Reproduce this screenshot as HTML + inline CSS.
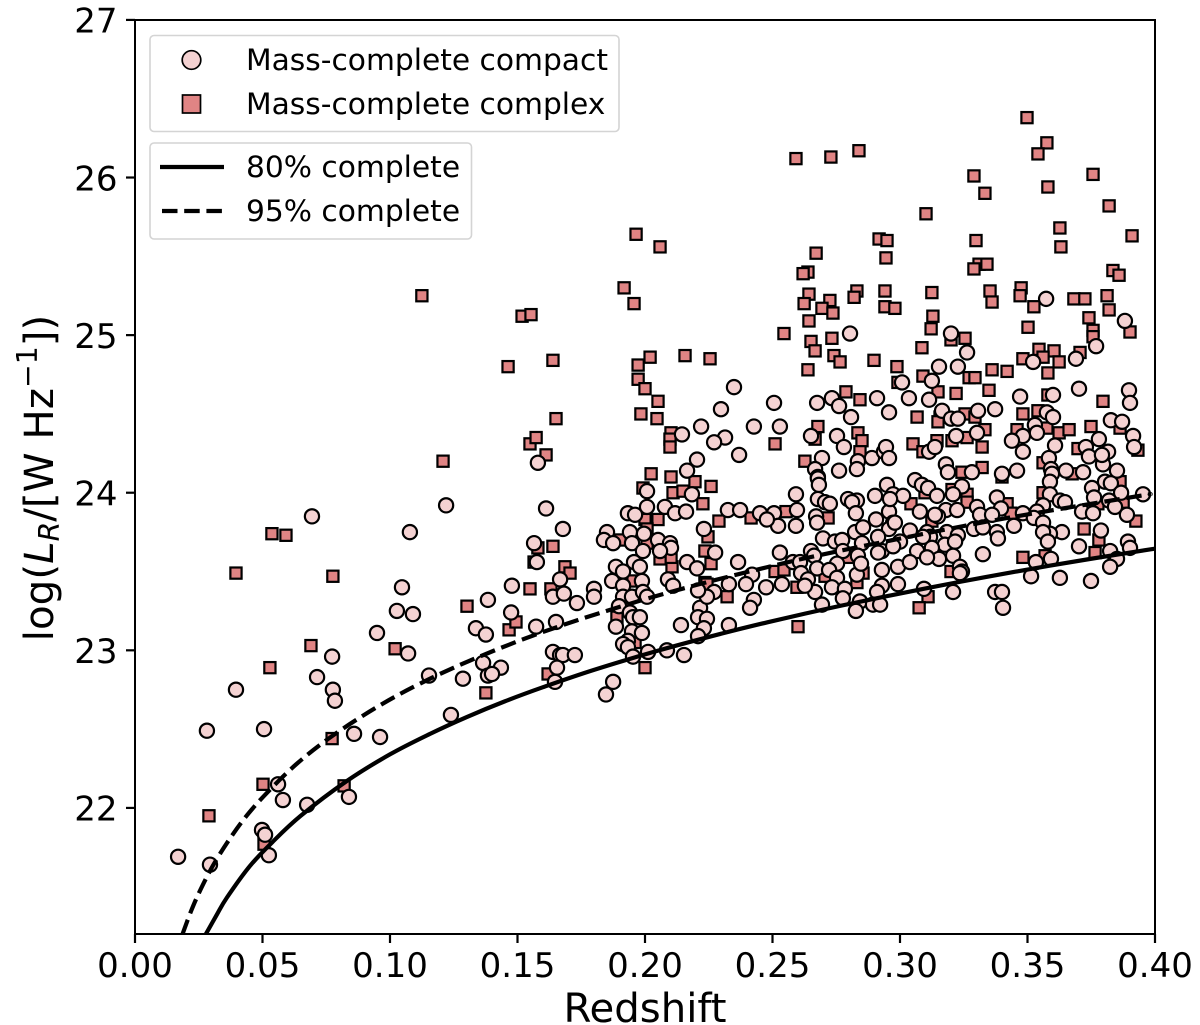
<!DOCTYPE html>
<html lang="en">
<head>
<meta charset="utf-8">
<title>Radio luminosity vs redshift</title>
<style>
html,body{margin:0;padding:0;background:#fff;}
svg{display:block;font-family:"DejaVu Sans","Liberation Sans",sans-serif;}
</style>
</head>
<body>
<svg id="chart" xmlns="http://www.w3.org/2000/svg" width="1200" height="1025" viewBox="0 0 1200 1025">
  <defs><clipPath id="plot-clip"><rect x="135" y="20" width="1020" height="914"/></clipPath></defs>
  <rect width="1200" height="1025" fill="#fff"/>
  <g id="complex-layer"></g>
  <g id="compact-layer"></g>
  <g id="curve-layer" clip-path="url(#plot-clip)"></g>
  <rect x="135" y="20" width="1020" height="914" fill="none" stroke="#000" stroke-width="2"/>
  <g id="tick-layer"></g>
  <text x="645" y="1022" font-size="40.2" text-anchor="middle">Redshift</text>
  <text transform="translate(53,478) rotate(-90)" font-size="40.4" text-anchor="middle">log(<tspan font-style="italic">L</tspan><tspan font-size="28.3" dy="6"><tspan font-style="italic">R</tspan></tspan><tspan dy="-6">/[W Hz</tspan><tspan font-size="28.3" dy="-16">−1</tspan><tspan dy="16">])</tspan></text>

  <g>
    <rect x="150" y="35.5" width="469" height="96" rx="4" fill="#fff" fill-opacity="0.85" stroke="#d4d4d4" stroke-width="1.6"/>
    <circle cx="191.5" cy="60" r="9.3" fill="#f4d2d2" stroke="#000" stroke-width="1.7"/>
    <rect x="182.5" y="95" width="18" height="18" fill="#e08484" stroke="#000" stroke-width="1.7"/>
    <text x="246" y="70" font-size="29.7">Mass-complete compact</text>
    <text x="246" y="114" font-size="29.7">Mass-complete complex</text>
  </g>
  <g>
    <rect x="150" y="143" width="321.5" height="96" rx="4" fill="#fff" fill-opacity="0.85" stroke="#d4d4d4" stroke-width="1.6"/>
    <line x1="160" y1="167" x2="224" y2="167" stroke="#000" stroke-width="4.2"/>
    <line x1="162" y1="211" x2="222" y2="211" stroke="#000" stroke-width="4.2" stroke-dasharray="15.5 6.7"/>
    <text x="246" y="177" font-size="29.7">80% complete</text>
    <text x="246" y="221" font-size="29.7">95% complete</text>
  </g>
</svg>
<script>
const xTickValues=[0,0.05,0.10,0.15,0.20,0.25,0.30,0.35,0.40];
const xTickLabels=["0.00","0.05","0.10","0.15","0.20","0.25","0.30","0.35","0.40"];
const yTickValues=[22,23,24,25,26,27];
const yTickLabels=["22","23","24","25","26","27"];

const curve80Z=[0.0278,0.032,0.036,0.045,0.0537,0.065,0.083,0.10,0.1157,0.13,0.145,0.16,0.18,0.206,0.23,0.248,0.27,0.2922,0.32,0.347,0.375,0.40];
const curve80L=[21.2,21.32,21.43,21.63,21.78,21.95,22.17,22.34,22.47,22.576,22.676,22.766,22.876,23.002,23.106,23.178,23.259,23.335,23.424,23.504,23.581,23.645];
const curve95Z=[0.0186,0.022,0.0255,0.0306,0.037,0.0439,0.052,0.0635,0.0773,0.095,0.1118,0.1314,0.156,0.1835,0.2149,0.248,0.2737,0.3247,0.3576,0.394,0.398];
const curve95L=[21.198,21.346,21.475,21.635,21.80,21.953,22.10,22.281,22.456,22.641,22.789,22.935,23.093,23.243,23.392,23.528,23.622,23.788,23.883,23.98,23.99];

const complexPoints=[
[.0396,23.49],[.0537,23.74],[.0592,23.73],[.0776,23.47],[.0690,23.03],[.1020,23.01],[.0529,22.89],[.0773,22.44],[.0502,22.15],[.0820,22.14],[.0290,21.95],[.0506,21.77],
[.1125,25.25],[.1208,24.20],[.1302,23.28],[.1376,22.73],[.1467,23.13],[.1494,23.18],[.1463,24.80],[.1518,25.12],[.1553,25.13],[.1549,24.31],[.1573,24.35],[.1612,24.24],
[.1639,24.84],[.1651,24.47],[.1549,23.39],[.1565,23.56],[.1580,23.65],[.1639,23.66],[.1631,23.39],[.1686,23.53],[.1706,23.49],[.1620,22.85],[.1918,25.30],[.1957,25.20],
[.1965,25.64],[.2059,25.56],[.1973,24.81],[.2020,24.86],[.1973,24.72],[.2000,24.66],[.2157,24.87],[.2255,24.85],[.2051,24.58],[.1984,24.50],[.2047,24.47],[.2102,24.38],
[.2098,24.34],[.2098,24.29],[.2510,24.31],[.2627,24.20],[.2024,24.12],[.2102,24.10],[.1992,24.03],[.2196,24.07],[.2259,24.04],[.2110,24.00],[.2149,24.01],[.2227,23.93],
[.2000,23.83],[.2051,23.83],[.2290,23.82],[.2553,23.88],[.2416,23.84],[.2718,23.84],[.2247,23.72],[.2235,23.63],[.2259,23.55],[.2106,23.53],[.2102,23.59],[.2059,23.58],
[.1890,23.21],[.1953,23.44],[.2235,23.43],[.2322,23.34],[.2510,23.50],[.2545,23.51],[.2596,23.40],[.2600,23.15],[.1902,23.70],[.2008,23.68],[.2008,23.77],[.2796,23.59],
[.2855,23.49],[.2831,23.43],[.2706,23.47],[.2000,22.89],[.1961,23.05],[.2243,23.42],
[.3498,26.38],[.3576,26.22],[.3541,26.15],[.2592,26.12],[.2729,26.13],[.2839,26.17],[.3290,26.01],[.3757,26.02],[.3333,25.90],[.3580,25.94],[.3820,25.82],[.3102,25.77],
[.3627,25.68],[.3910,25.63],[.2918,25.61],[.2949,25.60],[.3631,25.56],[.3298,25.60],[.2945,25.49],[.2671,25.52],[.3310,25.45],[.3341,25.45],[.3290,25.42],[.2639,25.40],
[.2620,25.39],[.3835,25.41],[.3859,25.38],[.2643,25.26],[.2831,25.28],[.2820,25.24],[.2941,25.28],[.3125,25.27],[.3353,25.28],[.3475,25.30],[.3471,25.25],[.3361,25.21],
[.3525,25.18],[.2624,25.20],[.2725,25.22],[.2694,25.17],[.2737,25.14],[.2941,25.18],[.2980,25.17],[.3682,25.23],[.3725,25.23],[.3812,25.25],[.3820,25.16],[.3741,25.11],
[.3129,25.12],[.2643,25.09],[.3122,25.04],[.3502,25.05],[.3757,25.03],[.3902,25.02],[.2545,25.01],[.2733,24.98],[.2651,24.96],[.3255,24.98],[.3200,24.97],[.3086,24.92],
[.3545,24.91],[.3604,24.90],[.3706,24.89],[.3757,24.99],[.2667,24.90],[.2741,24.87],[.2765,24.83],[.2898,24.84],[.2639,24.78],[.2988,24.80],[.2992,24.70],[.2788,24.64],
[.2843,24.59],[.2678,24.42],[.2667,24.34],[.2835,24.38],[.2851,24.33],[.2843,24.26],
[.3090,24.74],[.3271,24.73],[.3294,24.73],[.3361,24.78],[.3420,24.77],[.3482,24.85],[.3561,24.86],[.3624,24.83],[.3580,24.76],[.3149,24.64],[.3220,24.63],[.3349,24.65],
[.3580,24.62],[.3796,24.58],[.3067,24.48],[.3255,24.50],[.3157,24.48],[.3149,24.45],[.3294,24.48],[.3333,24.40],[.3482,24.50],[.3541,24.52],[.3576,24.41],[.3459,24.40],
[.3624,24.38],[.3663,24.40],[.3749,24.42],[.3863,24.41],[.3051,24.31],[.3145,24.33],[.3204,24.33],[.3263,24.35],[.3322,24.29],[.3090,24.26],[.3698,24.28],[.3933,24.27],
[.3322,24.16],[.3243,24.13],[.3561,24.19],[.3400,24.10],[.3675,24.12],[.3098,24.00],[.3204,24.02],[.3263,23.99],[.3263,23.94],[.3561,24.00],[.3863,24.07],[.3043,23.93],
[.3420,23.93],[.3435,23.87],[.3125,23.82],[.3875,23.94],[.3776,23.93],[.3925,23.82],[.3722,23.77],[.3780,23.70],[.3482,23.59],[.3569,23.60],[.3765,23.62],[.3200,23.50],
[.3110,23.34],[.3075,23.27]
];

const compactPoints=[
[.0694,23.85],[.1078,23.75],[.1047,23.40],[.1027,23.25],[.1090,23.23],[.0949,23.11],[.1071,22.98],[.0773,22.96],[.0714,22.83],[.0396,22.75],[.0776,22.75],[.0784,22.68],
[.0282,22.49],[.0506,22.50],[.0859,22.47],[.0961,22.45],[.0561,22.15],[.0580,22.05],[.0675,22.02],[.0839,22.07],[.0498,21.86],[.0510,21.83],[.0525,21.70],[.0169,21.69],
[.0294,21.64],[.1153,22.84],[.1220,23.92],[.1239,22.59],[.1286,22.82],[.1384,23.32],[.1337,23.14],[.1376,23.10],[.1478,23.41],[.1475,23.24],[.1365,22.92],[.1435,22.89],
[.1384,22.84],[.1400,22.85],[.1580,24.19],[.1612,23.90],[.1678,23.77],[.1565,23.68],[.1576,23.56],[.1667,23.45],[.1639,23.34],[.1682,23.36],[.1733,23.30],[.1800,23.39],
[.1800,23.34],[.1573,23.15],[.1651,23.18],[.1639,22.99],[.1667,22.97],[.1678,22.97],[.1725,22.97],[.1655,22.89],[.1647,22.80],[.1875,22.80],[.1847,22.72],[.1933,23.87],
[.2008,23.91],[.2078,23.91],[.1961,23.86],[.2118,23.87],[.2161,23.88],[.1851,23.75],[.1839,23.70],[.1875,23.68],[.1941,23.75],[.1996,23.74],[.1949,23.68],[.2051,23.70],
[.2098,23.68],[.2102,23.65],[.1992,23.63],[.2059,23.63],[.2165,23.56],[.2204,23.52],[.2231,23.77],[.2275,23.62],[.2090,23.45],[.2110,23.41],[.1957,23.56],[.1980,23.53],
[.1886,23.53],[.1914,23.50],[.1988,23.44],[.1871,23.44],[.1914,23.41],[.1914,23.34],[.1949,23.34],[.1992,23.37],[.2008,23.34],[.1898,23.28],[.1941,23.24],[.1953,23.21],
[.1980,23.21],[.1886,23.15],[.1949,23.12],[.1988,23.11],[.1933,23.06],[.1914,23.04],[.1933,23.02],[.2012,22.99],[.1953,22.96],[.2086,23.00],[.2153,22.97],[.2141,23.16],
[.2216,23.27],[.2208,23.21],[.2243,23.20],[.2231,23.14],[.2208,23.09],[.2271,23.37],[.2243,23.34],[.2208,23.38],
[.2349,24.67],[.2506,24.57],[.2298,24.53],[.2220,24.42],[.2427,24.42],[.2529,24.42],[.2314,24.35],[.2271,24.32],[.2145,24.37],[.2369,24.24],[.2204,24.21],[.2165,24.14],
[.2008,24.01],[.2184,23.99],[.2325,23.89],[.2373,23.89],[.2451,23.87],[.2506,23.87],[.2592,23.99],[.2596,23.89],[.2592,23.79],[.2522,23.79],[.2478,23.83],[.2365,23.56],
[.2529,23.62],[.2420,23.48],[.2329,23.42],[.2396,23.42],[.2475,23.40],[.2537,23.42],[.2427,23.32],[.2412,23.27],[.2329,23.16],
[.2675,24.57],[.2733,24.60],[.2761,24.55],[.2910,24.60],[.2957,24.51],[.2808,24.48],[.2651,24.36],[.2753,24.36],[.2780,24.29],[.2694,24.22],[.2835,24.20],[.2890,24.22],
[.2937,24.26],[.2945,24.29],[.2957,24.22],[.2761,24.14],[.2831,24.15],[.2667,24.15],[.2678,24.10],[.2678,24.09],[.2682,24.05],[.2949,24.05],[.2973,23.99],[.2902,23.98],
[.2678,23.96],[.2706,23.94],[.2725,23.93],[.2796,23.96],[.2831,23.95],[.2812,23.94],[.2827,23.87],[.2957,23.88],[.2671,23.85],[.2675,23.81],[.2906,23.83],[.2973,23.81],
[.2957,23.77],[.2824,23.75],[.2855,23.78],[.2851,23.68],[.2914,23.72],[.2698,23.71],[.2745,23.69],[.2773,23.70],[.2651,23.63],[.2663,23.60],[.2776,23.63],[.2835,23.60],
[.2929,23.63],[.2914,23.62],[.2580,23.56],[.2608,23.56],[.2753,23.55],[.2675,23.52],[.2722,23.51],[.2929,23.51],[.2992,23.53],[.2612,23.49],[.2831,23.48],[.2639,23.45],
[.2753,23.46],[.2667,23.37],[.2733,23.40],[.2784,23.39],[.2929,23.41],[.2992,23.42],[.2910,23.37],[.2776,23.33],[.2694,23.29],[.2843,23.31],[.2827,23.25],[.2894,23.29],
[.2627,23.41],[.2847,23.55],[.3012,23.98],[.2961,23.96],[.2980,23.81],[.3039,23.76],[.3078,23.88],[.3000,23.69],[.3067,23.63],[.2973,23.66],[.3039,23.56],
[.2804,25.01],[.3200,25.01],[.3573,25.23],[.3882,25.09],[.3769,24.93],[.3263,24.89],[.3153,24.80],[.3227,24.80],[.3522,24.83],[.3690,24.85],[.3125,24.71],[.3008,24.70],
[.3035,24.60],[.3114,24.59],[.3471,24.61],[.3600,24.62],[.3702,24.66],[.3898,24.65],[.3902,24.57],[.3373,24.53],[.3306,24.52],[.3165,24.52],[.3200,24.47],[.3227,24.47],
[.3576,24.51],[.3600,24.48],[.3529,24.43],[.3537,24.38],[.3482,24.36],[.3439,24.33],[.3220,24.36],[.3302,24.38],[.3827,24.46],[.3871,24.45],[.3914,24.36],[.3918,24.29],
[.3780,24.34],[.3729,24.29],[.3608,24.30],[.3741,24.23],[.3796,24.18],[.3816,24.26],[.3792,24.24],[.3482,24.26],[.3114,24.26],[.3137,24.29],[.3584,24.22],[.3592,24.15],
[.3180,24.18],[.3188,24.13],[.3282,24.13],[.3400,24.12],[.3459,24.14],[.3651,24.14],[.3718,24.13],[.3851,24.14],[.3596,24.12],[.3059,24.08],[.3086,24.05],[.3110,24.03],
[.3243,24.04],[.3145,23.98],[.3208,23.99],[.3380,23.97],[.3588,24.07],[.3588,23.99],[.3753,24.03],[.3804,24.07],[.3827,24.06],[.3867,24.00],[.3761,23.97],[.3820,23.95],
[.3843,23.91],[.3953,23.99],[.3627,23.95],[.3561,23.92],[.3537,23.88],[.3647,23.94],[.3180,23.89],[.3224,23.89],[.3302,23.91],[.3396,23.90],[.3482,23.87],[.3314,23.86],
[.3361,23.86],[.3149,23.85],[.3137,23.86],[.3525,23.84],[.3714,23.88],[.3757,23.87],[.3890,23.86],[.3561,23.81],[.3447,23.79],[.3106,23.75],[.3184,23.75],[.3290,23.77],
[.3325,23.78],[.3380,23.75],[.3384,23.71],[.3635,23.75],[.3588,23.74],[.3561,23.75],[.3580,23.69],[.3788,23.76],[.3118,23.72],[.3227,23.73],[.3090,23.72],[.3176,23.67],
[.3216,23.69],[.3125,23.65],[.3702,23.66],[.3894,23.69],[.3902,23.65],[.3325,23.61],[.3153,23.58],[.3106,23.59],[.3208,23.60],[.3533,23.56],[.3592,23.58],[.3824,23.63],
[.3851,23.58],[.3824,23.53],[.3235,23.53],[.3243,23.50],[.3235,23.49],[.3514,23.47],[.3627,23.46],[.3749,23.44],[.3094,23.39],[.3208,23.37],[.3373,23.37],[.3400,23.37],
[.3404,23.27],[.2922,23.29]
];

const NS='http://www.w3.org/2000/svg';
function xScale(z){return 135+z*2550;}
function yScale(v){return 934-(v-21.2)*157.6;}
function make(tag,attrs,parent){
  const el=document.createElementNS(NS,tag);
  for(const k in attrs){el.setAttribute(k,attrs[k]);}
  parent.appendChild(el);
  return el;
}

const tickLayer=document.getElementById('tick-layer');
xTickValues.forEach(function(v,i){
  const x=xScale(v);
  const t=make('line',{x1:x,x2:x,y1:934,y2:943,stroke:'#000','stroke-width':2.2},tickLayer);
  
  
  const l=make('text',{x:x,y:977,'font-size':34,'text-anchor':'middle'},tickLayer);
  
  
  l.textContent=xTickLabels[i];
});
yTickValues.forEach(function(v,i){
  const y=yScale(v);
  const t=make('line',{x1:126,x2:135,y1:y,y2:y,stroke:'#000','stroke-width':2.2},tickLayer);
  
  
  const l=make('text',{x:117.5,y:y+12.8,'font-size':34,'text-anchor':'end'},tickLayer);
  
  
  l.textContent=yTickLabels[i];
});

const complexLayer=document.getElementById('complex-layer');
complexPoints.forEach(function(p){
  const s=11.2;
  const m=make('rect',{x:xScale(p[0])-s/2,y:yScale(p[1])-s/2,width:s,height:s,fill:'#e08484',stroke:'#000','stroke-width':2.2},complexLayer);
  
  
});
const compactLayer=document.getElementById('compact-layer');
compactPoints.forEach(function(p){
  const m=make('circle',{cx:xScale(p[0]),cy:yScale(p[1]),r:7.1,fill:'#f4d2d2',stroke:'#000','stroke-width':2.2},compactLayer);
  
  
});

function smoothPath(zs,ls){
  const pts=zs.map(function(z,i){return [xScale(z),yScale(ls[i])];});
  let d='M'+pts[0][0].toFixed(2)+' '+pts[0][1].toFixed(2);
  for(let i=0;i<pts.length-1;i++){
    const p0=pts[Math.max(i-1,0)],p1=pts[i],p2=pts[i+1],p3=pts[Math.min(i+2,pts.length-1)];
    const c1x=p1[0]+(p2[0]-p0[0])/6,c1y=p1[1]+(p2[1]-p0[1])/6;
    const c2x=p2[0]-(p3[0]-p1[0])/6,c2y=p2[1]-(p3[1]-p1[1])/6;
    d+='C'+c1x.toFixed(2)+' '+c1y.toFixed(2)+' '+c2x.toFixed(2)+' '+c2y.toFixed(2)+' '+p2[0].toFixed(2)+' '+p2[1].toFixed(2);
  }
  return d;
}
const curveLayer=document.getElementById('curve-layer');
const c80=make('path',{d:smoothPath(curve80Z,curve80L),fill:'none',stroke:'#000','stroke-width':4.2},curveLayer);


const c95=make('path',{d:smoothPath(curve95Z,curve95L),fill:'none',stroke:'#000','stroke-width':4.2,'stroke-dasharray':'15.5 6.7'},curveLayer);


</script>
</body>
</html>
